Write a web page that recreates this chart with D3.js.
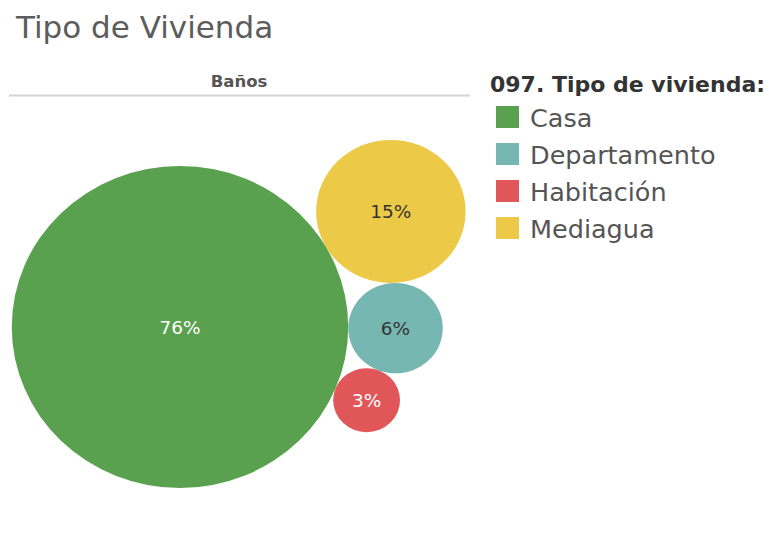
<!DOCTYPE html>
<html>
<head>
<meta charset="utf-8">
<script src="https://cdn.jsdelivr.net/npm/d3@7"></script>
<style>
  html, body { margin: 0; padding: 0; background: #fff; }
  svg { display: block; }
  text { font-family: "DejaVu Sans", "Noto Sans", sans-serif; }
</style>
</head>
<body>
<svg id="chart" width="769" height="534"></svg>
<script>
// ---- data ----
const title = "Tipo de Vivienda";
const columnHeader = "Baños";
const legendTitle = "097. Tipo de vivienda:";
const categories = ["Casa", "Departamento", "Habitación", "Mediagua"];
const shares = [76, 6, 3, 15]; // percent
const colors = ["#59a14f", "#76b7b2", "#e15759", "#edc948"];
const labelColors = ["#ffffff", "#333333", "#ffffff", "#333333"];

// ---- layout ----
const svg = d3.select("#chart");

svg.append("text")
  .attr("x", 16).attr("y", 38)
  .attr("font-size", 31)
  .attr("fill", "#5c5c5c")
  .text(title);

// pane header
svg.append("text")
  .attr("x", 239).attr("y", 87)
  .attr("text-anchor", "middle")
  .attr("font-size", 16.5).attr("font-weight", 700)
  .attr("fill", "#555")
  .text(columnHeader);
svg.append("line")
  .attr("x1", 9).attr("x2", 470).attr("y1", 95.5).attr("y2", 95.5)
  .attr("stroke", "#d4d4d4").attr("stroke-width", 2);

// bubble sizes
const color = d3.scaleOrdinal().domain(categories).range(colors);
const rScale = d3.scaleSqrt().domain([0, d3.max(shares)]).range([0, 161]);
const kx = 1.045; // horizontal stretch of the pane

const nodes = categories.map((c, i) => ({ cat: c, v: shares[i], r: rScale(shares[i]), lc: labelColors[i] }));
const byCat = Object.fromEntries(nodes.map(n => [n.cat, n]));

// place a circle tangent to two others (lower solution)
function tangentTo(a, b, r) {
  const d1 = a.r + r, d2 = b.r + r;
  const dx = b.x - a.x, dy = b.y - a.y;
  const D = Math.hypot(dx, dy);
  const ux = dx / D, uy = dy / D;
  const aa = (d1 * d1 - d2 * d2 + D * D) / (2 * D);
  const h = Math.sqrt(Math.max(0, d1 * d1 - aa * aa));
  const px = a.x + aa * ux - h * uy, py = a.y + aa * uy + h * ux;
  const qx = a.x + aa * ux + h * uy, qy = a.y + aa * uy - h * ux;
  return py > qy ? { x: px, y: py } : { x: qx, y: qy };
}

const big = byCat["Casa"];
big.x = 0; big.y = 0;
const med = byCat["Mediagua"];
const ang = -29.8 * Math.PI / 180;
med.x = (big.r + med.r) * Math.cos(ang);
med.y = (big.r + med.r) * Math.sin(ang);
const dep = byCat["Departamento"];
Object.assign(dep, tangentTo(big, med, dep.r));
const hab = byCat["Habitación"];
Object.assign(hab, tangentTo(big, dep, hab.r));

const originX = 180, originY = 327;
const xS = d3.scaleLinear().domain([0, 1]).range([originX, originX + kx]);
const yS = d3.scaleLinear().domain([0, 1]).range([originY, originY + 1]);

const g = svg.append("g");
g.selectAll("ellipse").data(nodes).join("ellipse")
  .attr("cx", d => xS(d.x)).attr("cy", d => yS(d.y))
  .attr("rx", d => d.r * kx).attr("ry", d => d.r)
  .attr("fill", d => color(d.cat));
g.selectAll("text.lbl").data(nodes).join("text")
  .attr("class", "lbl")
  .attr("x", d => xS(d.x)).attr("y", d => yS(d.y))
  .attr("dy", "0.36em")
  .attr("text-anchor", "middle")
  .attr("font-size", 18.5)
  .attr("fill", d => d.lc)
  .text(d => d.v + "%");

// legend
const lg = svg.append("g").attr("transform", "translate(490,0)");
lg.append("text")
  .attr("x", 0).attr("y", 92)
  .attr("font-size", 22).attr("font-weight", 700)
  .attr("fill", "#333")
  .text(legendTitle);
const item = lg.selectAll("g.item").data(categories).join("g")
  .attr("class", "item")
  .attr("transform", (d, i) => `translate(0,${106 + i * 37})`);
item.append("rect")
  .attr("x", 6).attr("y", 0).attr("width", 23).attr("height", 22)
  .attr("fill", d => color(d));
item.append("text")
  .attr("x", 40).attr("y", 21)
  .attr("font-size", 25.5)
  .attr("fill", "#555")
  .text(d => d);
</script>
</body>
</html>
